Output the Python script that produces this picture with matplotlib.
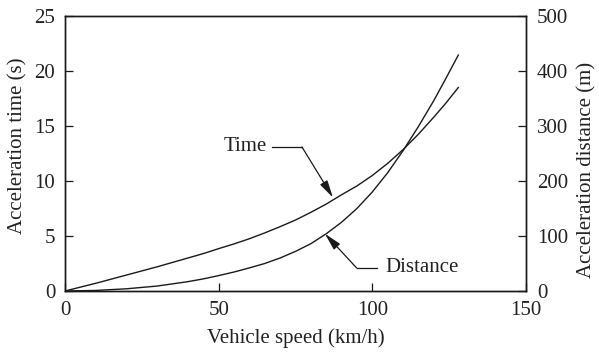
import matplotlib
matplotlib.use("Agg")
import matplotlib.pyplot as plt

# Data
speed = [0, 10, 20, 30, 40, 45, 50, 55, 60, 65, 70, 75, 80, 85, 90, 95,
         100, 105, 110, 115, 120, 124, 128]
accel_time = [0, 0.7, 1.45, 2.2, 3.0, 3.4, 3.85, 4.28, 4.75, 5.28, 5.85, 6.45,
              7.15, 7.9, 8.75, 9.55, 10.5, 11.6, 12.85, 14.25, 15.8, 17.1, 18.5]
accel_dist = [0, 1, 4, 9, 17, 22, 28, 34.5, 42, 50, 60, 72, 86, 104, 125, 150,
              180, 215, 255, 299, 346, 387, 429]

x_ticks = [0, 50, 100, 150]
time_ticks = [0, 5, 10, 15, 20, 25]
dist_ticks = [0, 100, 200, 300, 400, 500]

plt.rcParams['font.family'] = ['Liberation Serif', 'DejaVu Serif']
plt.rcParams['font.size'] = 15

fig = plt.figure(figsize=(5.99, 3.52), dpi=100)
ax = fig.add_axes([0.1085, 0.1733, 0.7695, 0.7812])
ax2 = ax.twinx()

ax.plot(speed, accel_time, color='#1a1a1a', lw=1.0)
ax2.plot(speed, accel_dist, color='#1a1a1a', lw=1.0)

ax.set_xlim(0, 150)
ax.set_ylim(0, 25)
ax2.set_ylim(0, 500)
ax.set_xticks(x_ticks)
ax.set_yticks(time_ticks)
ax2.set_yticks(dist_ticks)

for a in (ax, ax2):
    a.tick_params(direction='in', length=5.5, width=0.9, colors='#1a1a1a', labelcolor='#222222')
    for s in a.spines.values():
        s.set_linewidth(1.0)
        s.set_color('#1a1a1a')
ax.tick_params(axis='x', pad=7)
ax.tick_params(axis='y', pad=7)
ax2.tick_params(axis='y', pad=8)

ax.set_xlabel('Vehicle speed (km/h)', color='#222222', labelpad=6)
ax.set_ylabel('Acceleration time (s)', color='#222222')
ax2.set_ylabel('Acceleration distance (m)', color='#222222')
ax.yaxis.set_label_coords(-0.082, 0.527)
ax2.yaxis.set_label_coords(1.112, 0.44)

# Callouts (in time-axis coordinates)
arrow = dict(arrowstyle='-|>,head_length=0.7,head_width=0.17', color='#1a1a1a',
             lw=0.9, shrinkA=0, shrinkB=0)
ax.text(65.7, 13.1, 'Time', ha='right', va='center', color='#222222')
ax.plot([67.4, 77.1], [13.1, 13.1], color='#1a1a1a', lw=0.9)
ax.annotate('', xy=(87.2, 8.5), xytext=(77.1, 13.1), arrowprops=arrow)

ax.text(104.1, 2.1, 'Distance', ha='left', va='center', color='#222222')
ax.plot([94.9, 101.4], [2.1, 2.1], color='#1a1a1a', lw=0.9)
ax.annotate('', xy=(84.6, 5.2), xytext=(94.9, 2.1), arrowprops=arrow)

fig.savefig('out.png', dpi=100)
